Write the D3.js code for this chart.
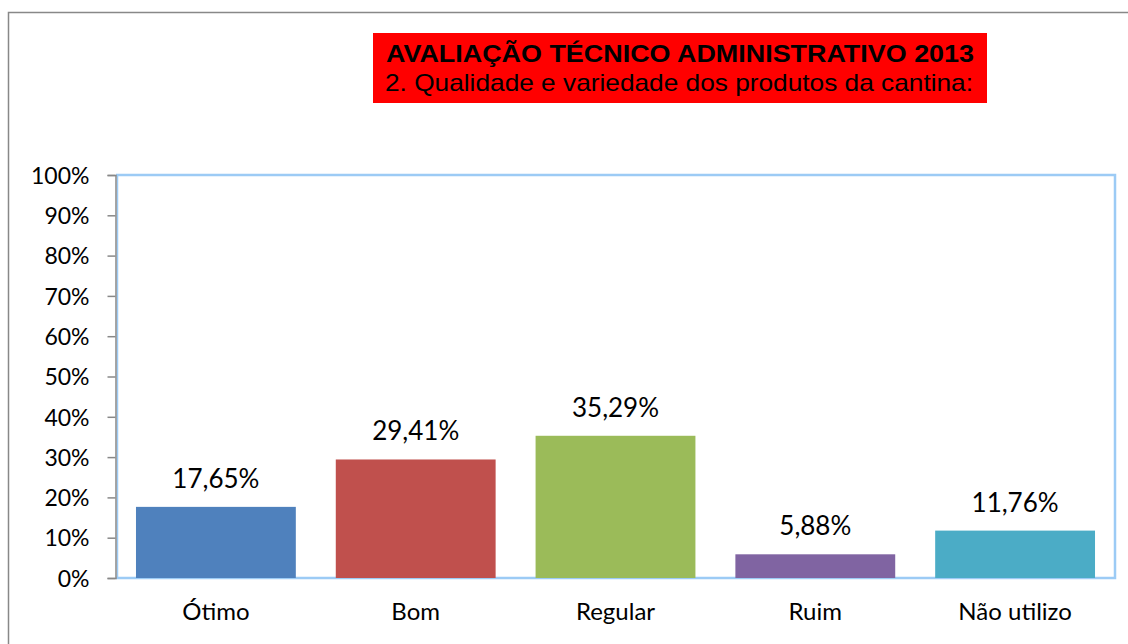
<!DOCTYPE html>
<meta charset="utf-8">
<style>
body { margin: 0; background: #fff; }
.tick text { font: 23px Lato, "Open Sans", sans-serif; fill: #000; }
.lbl { font: 26px Lato, "Open Sans", sans-serif; text-anchor: middle; fill: #000; }
.cat { font: 24px Lato, "Open Sans", sans-serif; text-anchor: middle; fill: #000; }
.title { font-family: "Liberation Sans", Arial, sans-serif; text-anchor: middle; fill: #000; }
</style>
<body>
<div id="chart"></div>
</body>
<script src="https://cdn.jsdelivr.net/npm/d3@7/dist/d3.min.js"></script>
<script>
var categories = ["Ótimo", "Bom", "Regular", "Ruim", "Não utilizo"];
var values = [17.65, 29.41, 35.29, 5.88, 11.76];
var labels = ["17,65%", "29,41%", "35,29%", "5,88%", "11,76%"];
var colors = ["#4f81bd", "#c0504d", "#9bbb59", "#8064a2", "#4bacc6"];
var yTicks = [0, 10, 20, 30, 40, 50, 60, 70, 80, 90, 100];

var width = 1128, height = 644;
var plotLeft = 116, plotRight = 1115, plotTop = 175, plotBottom = 578;

var svg = d3.select("#chart").append("svg")
	.attr("width", width)
	.attr("height", height);

// outer frame
svg.append("path")
	.attr("d", "M8.5," + height + " V12.5 H" + width)
	.attr("fill", "none")
	.attr("stroke", "#888")
	.attr("stroke-width", 1.5);

// title box
svg.append("rect")
	.attr("x", 373).attr("y", 33)
	.attr("width", 614).attr("height", 70)
	.attr("fill", "#ff0000");
svg.append("text").attr("class", "title")
	.attr("x", 680).attr("y", 62)
	.attr("textLength", 588).attr("lengthAdjust", "spacingAndGlyphs")
	.style("font-size", "23px").style("font-weight", "bold")
	.text("AVALIAÇÃO TÉCNICO ADMINISTRATIVO 2013");
svg.append("text").attr("class", "title")
	.attr("x", 679).attr("y", 91)
	.attr("textLength", 588).attr("lengthAdjust", "spacingAndGlyphs")
	.style("font-size", "24px")
	.text("2. Qualidade e variedade dos produtos da cantina:");

var x = d3.scaleBand()
	.domain(categories)
	.range([plotLeft, plotRight])
	.paddingInner(0.2)
	.paddingOuter(0.1);

var y = d3.scaleLinear()
	.domain([0, 100])
	.range([plotBottom, plotTop]);

// plot area border
svg.append("path")
	.attr("d", "M" + plotLeft + "," + plotTop + " H" + plotRight + " V" + plotBottom + " H" + plotLeft)
	.attr("fill", "none")
	.attr("stroke", "#9ccbf5")
	.attr("stroke-width", 2.5);
svg.append("line")
	.attr("x1", plotLeft + 1.5).attr("x2", plotLeft + 1.5)
	.attr("y1", plotTop).attr("y2", plotBottom)
	.attr("stroke", "#9ccbf5").attr("stroke-width", 1.5);

// y axis
var yAxis = svg.append("g")
	.attr("transform", "translate(" + (plotLeft - 0.5) + ",0)")
	.call(d3.axisLeft(y).tickValues(yTicks).tickSize(8).tickPadding(18)
		.tickFormat(function(d) { return d + "%"; }));
yAxis.select(".domain").attr("stroke", "#888").attr("stroke-width", 1.5);
yAxis.selectAll(".tick line").attr("stroke", "#888").attr("stroke-width", 1.5);
yAxis.selectAll(".tick text").attr("dy", "0.36em");

var data = categories.map(function(c, i) {
	return { cat: c, value: values[i], label: labels[i], color: colors[i] };
});

svg.selectAll(".bar")
	.data(data)
	.enter().append("rect")
	.attr("class", "bar")
	.attr("x", function(d) { return x(d.cat); })
	.attr("y", function(d) { return y(d.value); })
	.attr("width", x.bandwidth())
	.attr("height", function(d) { return y(0) - y(d.value); })
	.attr("fill", function(d) { return d.color; });

svg.selectAll(".lbl")
	.data(data)
	.enter().append("text")
	.attr("class", "lbl")
	.attr("x", function(d) { return x(d.cat) + x.bandwidth() / 2; })
	.attr("y", function(d) { return y(d.value) - 19; })
	.text(function(d) { return d.label; });

svg.selectAll(".cat")
	.data(data)
	.enter().append("text")
	.attr("class", "cat")
	.attr("x", function(d) { return x(d.cat) + x.bandwidth() / 2; })
	.attr("y", 620)
	.text(function(d) { return d.cat; });
</script>
